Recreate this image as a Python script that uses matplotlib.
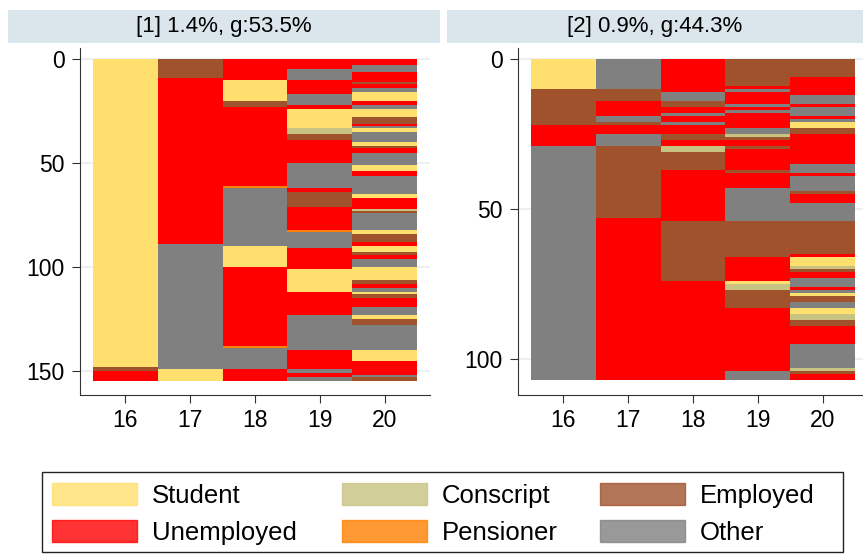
import numpy as np
import matplotlib
matplotlib.use("Agg")
import matplotlib.pyplot as plt
from matplotlib.patches import Rectangle

plt.rcParams['font.family'] = ['Liberation Sans', 'DejaVu Sans']

# states
state_names = ["Student", "Conscript", "Employed", "Unemployed", "Pensioner", "Other"]
state_codes = ["S", "C", "E", "U", "P", "O"]
state_colors = ["#FFE06E", "#C9C382", "#A0522D", "#FF0000", "#FF8000", "#808080"]

ages = [16, 17, 18, 19, 20]

# group 1 : (state, number of sequences), top to bottom
g1_age16 = [("S", 148), ("E", 2), ("U", 5)]
g1_age17 = [("E", 9), ("U", 80), ("O", 60), ("S", 6)]
g1_age18 = [("U", 10), ("S", 10), ("E", 3), ("U", 38), ("P", 1), ("O", 28),
            ("S", 10), ("U", 38), ("P", 1), ("O", 10), ("U", 6)]
g1_age19 = [("U", 5), ("O", 5), ("U", 7), ("O", 5), ("U", 2), ("S", 9), ("C", 3),
            ("E", 3), ("U", 11), ("O", 12), ("U", 2), ("E", 7), ("U", 11), ("P", 1),
            ("O", 8), ("U", 10), ("S", 11), ("U", 11), ("O", 17), ("U", 9), ("O", 2),
            ("U", 2), ("O", 2)]
g1_age20 = [("U", 3), ("O", 3), ("U", 5), ("E", 1), ("U", 2), ("O", 2), ("S", 4),
            ("U", 2), ("O", 2), ("S", 4), ("E", 3), ("U", 1), ("O", 1), ("S", 2),
            ("O", 5), ("S", 2), ("E", 1), ("U", 2), ("O", 6), ("S", 3), ("U", 2),
            ("O", 9), ("S", 2), ("U", 5), ("C", 1), ("E", 1), ("O", 8), ("S", 2),
            ("E", 4), ("U", 2), ("S", 3), ("E", 1), ("U", 2), ("O", 4), ("S", 6),
            ("E", 2), ("U", 2), ("O", 2), ("S", 1), ("E", 2), ("U", 4), ("O", 4),
            ("S", 2), ("E", 3), ("O", 12), ("S", 5), ("U", 7), ("O", 1), ("E", 2)]

# group 2
g2_age16 = [("S", 10), ("E", 12), ("U", 7), ("O", 78)]
g2_age17 = [("O", 10), ("E", 4), ("U", 5), ("O", 2), ("E", 1), ("U", 3), ("O", 4),
            ("E", 24), ("U", 54)]
g2_age18 = [("U", 11), ("O", 3), ("E", 2), ("U", 2), ("O", 1), ("U", 2), ("O", 1),
            ("U", 3), ("E", 2), ("U", 2), ("C", 2), ("E", 6), ("U", 17), ("E", 20),
            ("U", 33)]
g2_age19 = [("E", 9), ("U", 1), ("O", 1), ("U", 4), ("O", 1), ("U", 1), ("O", 1),
            ("U", 5), ("O", 2), ("C", 1), ("E", 1), ("U", 2), ("E", 1), ("U", 7),
            ("E", 1), ("U", 5), ("O", 11), ("E", 12), ("U", 8), ("S", 1), ("C", 2),
            ("E", 6), ("U", 21), ("O", 3)]
g2_age20 = [("E", 6), ("U", 6), ("O", 3), ("U", 1), ("O", 3), ("U", 1), ("O", 1),
            ("S", 2), ("E", 2), ("U", 10), ("O", 3), ("U", 1), ("O", 5), ("E", 1),
            ("U", 3), ("O", 6), ("E", 11), ("U", 1), ("S", 3), ("C", 1), ("E", 1),
            ("U", 2), ("O", 3), ("U", 1), ("O", 1), ("S", 1), ("E", 2), ("O", 2),
            ("S", 2), ("C", 2), ("E", 2), ("U", 6), ("O", 8), ("C", 1), ("E", 1),
            ("U", 2)]

group1 = [g1_age16, g1_age17, g1_age18, g1_age19, g1_age20]
group2 = [g2_age16, g2_age17, g2_age18, g2_age19, g2_age20]

titles = ["[1] 1.4%, g:53.5%", "[2] 0.9%, g:44.3%"]
yticks1 = [0, 50, 100, 150]
yticks2 = [0, 50, 100]

W, H = 863, 554
fig = plt.figure(figsize=(W / 100, H / 100), dpi=100)


def fx(px):
    return px / W


def fy(py):
    return 1 - py / H


cmap = dict(zip(state_codes, state_colors))


def draw_group(ax, group, yticks, ylim):
    for age, col in zip(ages, group):
        lens = np.array([n for s, n in col])
        starts = np.concatenate([[0], np.cumsum(lens)[:-1]])
        cols = [cmap[s] for s, n in col]
        ax.bar([age] * len(col), lens, bottom=starts, width=1.0, color=cols,
               linewidth=0, align='center', zorder=2)
    ax.set_xlim(15.3, 20.7)
    ax.set_ylim(ylim)
    ax.set_xticks(ages)
    ax.set_yticks(yticks)
    ax.grid(axis='y', color='#E6EEF1', linewidth=1.2, zorder=0)
    ax.tick_params(labelsize=16.5, length=6, color='#333333')
    ax.tick_params(axis='y', pad=5)
    ax.tick_params(axis='x', pad=4)
    for sp in ['top', 'right']:
        ax.spines[sp].set_visible(False)
    for sp in ['left', 'bottom']:
        ax.spines[sp].set_color('#333333')


ax1 = fig.add_axes([fx(80), fy(395), fx(430) - fx(80), fy(48) - fy(395)])
draw_group(ax1, group1, yticks1, (161.5, -5.3))

ax2 = fig.add_axes([fx(518), fy(395), fx(868) - fx(518), fy(48) - fy(395)])
draw_group(ax2, group2, yticks2, (111.9, -3.6))

# title strips
for (x0, x1), t in zip([(8, 440), (447, 863)], titles):
    fig.patches.append(Rectangle((fx(x0), fy(43)), fx(x1) - fx(x0), fy(10) - fy(43),
                                 transform=fig.transFigure, facecolor='#DAE5EC',
                                 edgecolor='none'))
    fig.text(fx((x0 + x1) / 2), fy(26.5), t, ha='center', va='center', fontsize=16)

# legend box drawn by hand (stata style)
fig.patches.append(Rectangle((fx(42), fy(552)), fx(843) - fx(42), fy(472) - fy(552),
                             transform=fig.transFigure, facecolor='white',
                             edgecolor='#222222', linewidth=1.0))
leg_order = [0, 3, 1, 4, 2, 5]
col_x = [52, 342, 600]
row_y = [493.5, 530.5]
for k, i in enumerate(leg_order):
    c, r = k // 2, k % 2
    x0 = col_x[c]
    yc = row_y[r]
    fig.patches.append(Rectangle((fx(x0), fy(yc + 11)), fx(85), fy(0) - fy(22),
                                 transform=fig.transFigure, facecolor=state_colors[i],
                                 edgecolor=state_colors[i], alpha=0.8, linewidth=1))
    fig.text(fx(x0 + 100), fy(yc), state_names[i], ha='left', va='center_baseline',
             fontsize=18.5)

fig.savefig("out.png", dpi=100)
